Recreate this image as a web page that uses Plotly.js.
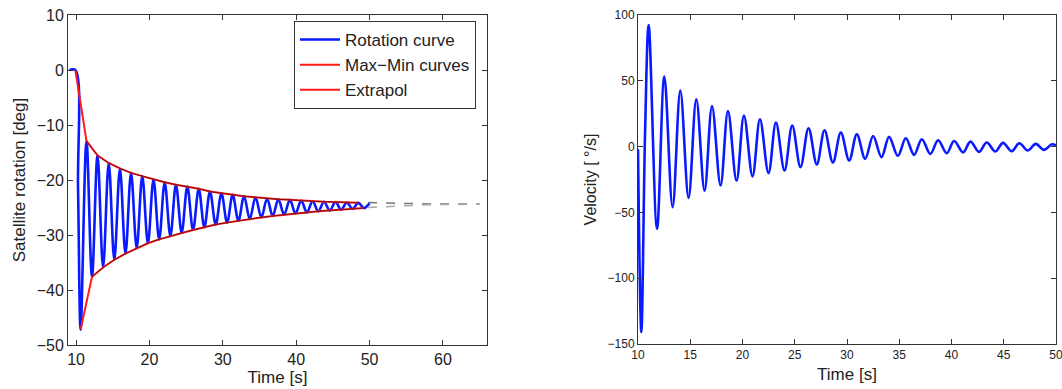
<!DOCTYPE html>
<html>
<head>
<meta charset="utf-8">
<script src="https://cdn.plot.ly/plotly-3.0.1.min.js"></script>
<style>html,body{margin:0;padding:0;background:#fff;}#chart{width:1062px;height:389px;}</style>
</head>
<body>
<div id="chart"></div>
<script>
// ---- Left panel: satellite rotation (deg) ----
const startTime = [9.1, 9.9, 10.27];
const startValue = [0, 0, -21.8];
const topTime = [11.42, 12.92, 14.45, 15.98, 17.49, 19.02, 20.55, 22.08, 23.61, 25.16, 26.72, 28.25, 29.81, 31.34, 32.90, 34.45, 36.03, 37.57, 39.14, 40.68, 42.23, 43.79, 45.35, 46.89, 48.46];
const topValue = [-12.9, -15.5, -16.9, -17.9, -18.7, -19.3, -19.9, -20.4, -20.85, -21.2, -21.6, -22.1, -22.4, -22.7, -22.95, -23.15, -23.35, -23.5, -23.6, -23.75, -23.85, -23.95, -24.0, -24.1, -24.15];
const bottomTime = [10.62, 12.17, 13.68, 15.21, 16.73, 18.26, 19.79, 21.32, 22.85, 24.39, 25.94, 27.48, 29.03, 30.58, 32.12, 33.67, 35.25, 36.79, 38.35, 39.90, 41.46, 43.01, 44.57, 46.13, 47.68, 49.24];
const bottomValue = [-47.2, -37.6, -35.9, -34.5, -33.4, -32.4, -31.5, -30.8, -30.2, -29.6, -29.1, -28.6, -28.1, -27.75, -27.4, -27.1, -26.8, -26.55, -26.3, -26.1, -25.9, -25.7, -25.55, -25.4, -25.25, -25.1];
const endTime = [50.0];
const endValue = [-24.2];
const extrapTime = [49.8, 58, 65];
const extrapUpper = [-24.1, -24.35, -24.35];
const extrapLower = [-25.0, -24.5, -24.4];

// ---- Right panel: velocity (deg/s) ----
const velTime = [10.0, 10.32, 10.68, 11.02, 11.82, 12.52, 13.31, 14.05, 14.84, 15.58, 16.37, 17.08, 17.90, 18.61, 19.43, 20.14, 20.96, 21.67, 22.49, 23.20, 24.02, 24.76, 25.55, 26.32, 27.11, 27.85, 28.65, 29.41, 30.21, 30.94, 31.74, 32.50, 33.30, 34.03, 34.86, 35.63, 36.42, 37.16, 37.98, 38.72, 39.55, 40.25, 41.11, 41.81, 42.64, 43.37, 44.20, 44.93, 45.76, 46.49, 47.29, 48.06, 48.85, 49.62, 50.0];
const velValue = [-2, -141, 12, 92.4, -62.5, 53.2, -46, 42.6, -39, 36, -33.6, 30.9, -29.6, 27.1, -26, 23.6, -22.7, 20.8, -20.2, 18.3, -18.2, 16, -15.6, 14, -13.6, 12.4, -12.1, 10.7, -10.6, 9.4, -9.3, 8.1, -8.0, 7.4, -7.0, 6.4, -6.3, 5.6, -5.5, 4.8, -5.0, 4.3, -4.5, 3.8, -4.0, 3.1, -3.7, 2.8, -3.5, 2.6, -3.0, 2.1, -2.5, 1.8, 0.8];

const leftXTicks = [10, 20, 30, 40, 50, 60];
const leftYTicks = [-50, -40, -30, -20, -10, 0, 10];
const rightXTicks = [10, 15, 20, 25, 30, 35, 40, 45, 50];
const rightYTicks = [-150, -100, -50, 0, 50, 100];

// merge start, extrema and end into the rotation curve (sorted by time)
const pts = [];
startTime.forEach((t, i) => pts.push([t, startValue[i]]));
topTime.forEach((t, i) => pts.push([t, topValue[i]]));
bottomTime.forEach((t, i) => pts.push([t, bottomValue[i]]));
endTime.forEach((t, i) => pts.push([t, endValue[i]]));
pts.sort((a, b) => a[0] - b[0]);
const rotTime = pts.map(p => p[0]);
const rotValue = pts.map(p => p[1]);

const FONT = 'Arial, "Liberation Sans", Helvetica, sans-serif';
const BLUE = '#0a1aff';
const RED = '#ff1a1a';

const traces = [
  { x: rotTime, y: rotValue, type: 'scatter', mode: 'lines', name: 'Rotation curve',
    line: { color: BLUE, width: 2.6, shape: 'spline', smoothing: 1 }, xaxis: 'x', yaxis: 'y' },
  { x: [startTime[1]].concat(topTime), y: [startValue[1]].concat(topValue), type: 'scatter', mode: 'lines',
    name: 'Max\u2212Min curves', line: { color: RED, width: 2 }, xaxis: 'x', yaxis: 'y' },
  { x: bottomTime, y: bottomValue, type: 'scatter', mode: 'lines', name: 'Extrapol',
    line: { color: RED, width: 2 }, xaxis: 'x', yaxis: 'y' },
  { x: topTime, y: topValue, type: 'scatter', mode: 'lines', showlegend: false,
    line: { color: 'rgba(0,0,0,0.5)', width: 1, shape: 'spline' }, xaxis: 'x', yaxis: 'y' },
  { x: bottomTime.slice(1), y: bottomValue.slice(1), type: 'scatter', mode: 'lines', showlegend: false,
    line: { color: 'rgba(0,0,0,0.5)', width: 1, shape: 'spline' }, xaxis: 'x', yaxis: 'y' },
  { x: extrapTime, y: extrapUpper, type: 'scatter', mode: 'lines', showlegend: false,
    line: { color: '#777', width: 1.5, dash: 'dash' }, xaxis: 'x', yaxis: 'y' },
  { x: extrapTime, y: extrapLower, type: 'scatter', mode: 'lines', showlegend: false,
    line: { color: '#aaa', width: 1.5, dash: 'dash' }, xaxis: 'x', yaxis: 'y' },
  { x: velTime, y: velValue, type: 'scatter', mode: 'lines', showlegend: false,
    line: { color: BLUE, width: 2.6, shape: 'spline', smoothing: 1 }, xaxis: 'x2', yaxis: 'y2' }
];

const axisCommon = {
  showline: true, linecolor: '#333', linewidth: 1, mirror: 'ticks',
  ticks: 'inside', ticklen: 5, tickcolor: '#333', showgrid: false, zeroline: false,
  automargin: false, tickmode: 'array', ticklabeloverflow: 'allow'
};

const layout = {
  width: 1062, height: 389,
  margin: { l: 0, r: 0, t: 0, b: 0 },
  paper_bgcolor: '#fff', plot_bgcolor: '#fff',
  font: { family: FONT, color: '#222' },
  showlegend: true,
  legend: {
    x: 294 / 1062, y: (389 - 21) / 389, xanchor: 'left', yanchor: 'top',
    bgcolor: '#fff', bordercolor: '#333', borderwidth: 1,
    font: { family: FONT, size: 17, color: '#222' }, tracegroupgap: 0, itemwidth: 40
  },
  xaxis: Object.assign({}, axisCommon, {
    domain: [68 / 1062, 487 / 1062], range: [8.9, 66], tickvals: leftXTicks,
    tickfont: { size: 16, color: '#222' }, anchor: 'y',
    title: { text: 'Time [s]', font: { size: 17, color: '#222' }, standoff: 3 }
  }),
  yaxis: Object.assign({}, axisCommon, {
    domain: [44 / 389, 374 / 389], range: [-50, 10], tickvals: leftYTicks,
    tickfont: { size: 16, color: '#222' }, anchor: 'x',
    title: { text: 'Satellite rotation [deg]', font: { size: 17, color: '#222' }, standoff: 6 }
  }),
  xaxis2: Object.assign({}, axisCommon, {
    domain: [638 / 1062, 1056 / 1062], range: [10, 50.0001], tickvals: rightXTicks,
    tickfont: { size: 12, color: '#222' }, anchor: 'y2',
    title: { text: 'Time [s]', font: { size: 17, color: '#222' }, standoff: 6 }
  }),
  yaxis2: Object.assign({}, axisCommon, {
    domain: [45 / 389, 374 / 389], range: [-150, 100], tickvals: rightYTicks,
    tickfont: { size: 12, color: '#222' }, anchor: 'x2',
    title: { text: 'Velocity [ \u00b0/s]', font: { size: 16, color: '#222' }, standoff: 6 }
  })
};

Plotly.newPlot('chart', traces, layout, { displayModeBar: false, staticPlot: true });
</script>
</body>
</html>
